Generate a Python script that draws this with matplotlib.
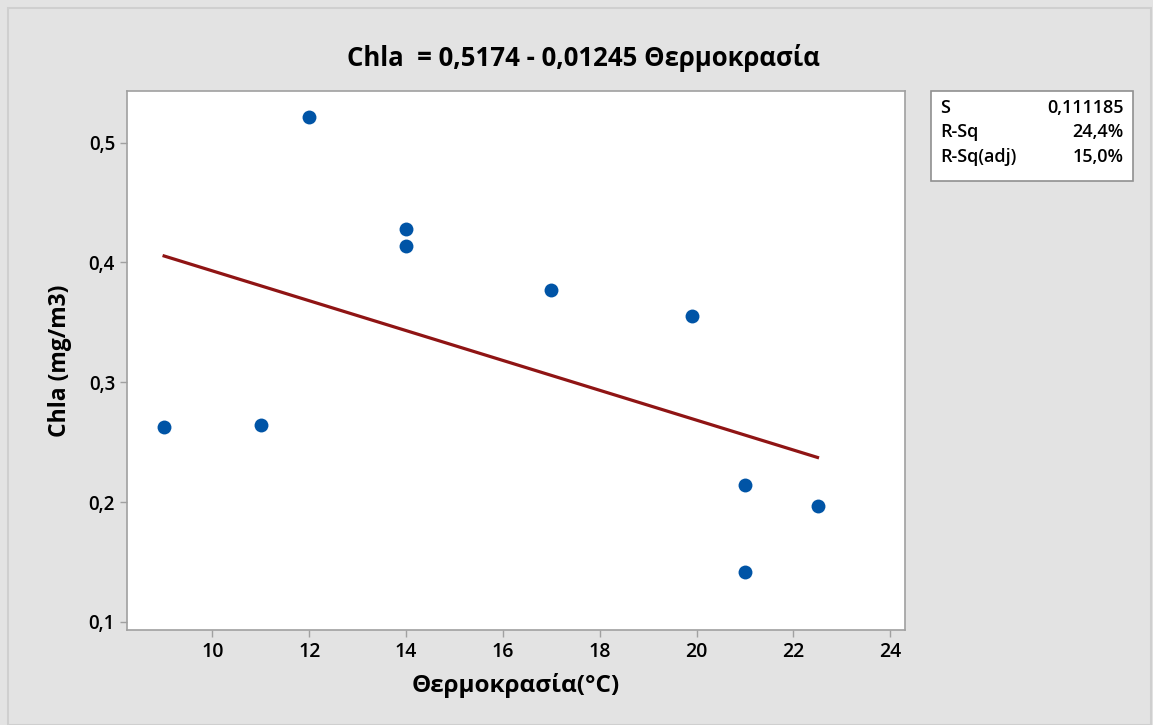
import numpy as np
import matplotlib
matplotlib.use("Agg")
from matplotlib import pyplot as plt
from matplotlib.patches import Rectangle

plt.rcParams['font.family'] = ['Open Sans', 'DejaVu Sans']

# Data
temp = [9, 11, 12, 14, 14, 17, 19.9, 21, 21, 22.5]
chla = [0.263, 0.2645, 0.521, 0.428, 0.414, 0.377, 0.3555, 0.2144, 0.1417, 0.197]

intercept = 0.5174
slope = -0.01245

stat_names = ["S", "R-Sq", "R-Sq(adj)"]
stat_values = ["0,111185", "24,4%", "15,0%"]

xticks = [10, 12, 14, 16, 18, 20, 22, 24]
yticks = [0.1, 0.2, 0.3, 0.4, 0.5]

def comma(v, pos=None):
    return f"{v:g}".replace(".", ",")

def main():
    bg = "#e3e3e3"
    fig = plt.figure(figsize=(11.53, 7.25), dpi=100, facecolor=bg)
    # outer frame
    fig.patches.append(Rectangle((8 / 1153, 0), 1 - 10 / 1153, 1 - 8 / 725,
                                 transform=fig.transFigure, fill=False,
                                 edgecolor="#cfcfcf", linewidth=1.5))

    ax = fig.add_axes([0.110, 0.131, 0.675, 0.7435])
    ax.set_facecolor("white")

    xs = np.array([min(temp), max(temp)])
    ax.plot(xs, intercept + slope * xs, color="#8f1414", linewidth=2.3, zorder=2)
    ax.scatter(temp, chla, s=100, color="#0054a6", zorder=3, linewidths=0)

    ax.set_xlim(8.23, 24.31)
    ax.set_ylim(0.0933, 0.543)
    ax.set_xticks(xticks)
    ax.set_yticks(yticks)
    ax.xaxis.set_major_formatter(plt.FuncFormatter(comma))
    ax.yaxis.set_major_formatter(plt.FuncFormatter(comma))
    ax.tick_params(colors="#a0a0a0", labelcolor="black", length=5, width=1)
    ax.tick_params(axis="x", labelsize=14)
    ax.tick_params(axis="y", labelsize=13.5)
    for lab in ax.get_xticklabels() + ax.get_yticklabels():
        lab.set_fontweight("semibold")
    for s in ax.spines.values():
        s.set_color("#a0a0a0")
        s.set_linewidth(1.2)

    ax.set_xlabel("Θερμοκρασία(°C)", fontsize=17.5, fontweight="bold", labelpad=8)
    ax.set_ylabel("Chla (mg/m3)", fontsize=16.5, fontweight="bold", labelpad=12)
    fig.text(0.506, 0.920, "Chla  = 0,5174 - 0,01245 Θερμοκρασία",
             ha="center", va="center", fontsize=18.5, fontweight="bold")

    # stats box
    bx0, bx1 = 931 / 1153, 1133 / 1153
    by0, by1 = 1 - 181 / 725, 1 - 91 / 725
    fig.patches.append(Rectangle((bx0, by0), bx1 - bx0, by1 - by0,
                                 transform=fig.transFigure, facecolor="white",
                                 edgecolor="#909090", linewidth=1.2))
    rows_y = [108, 132, 157]
    for name, val, ry in zip(stat_names, stat_values, rows_y):
        fig.text(bx0 + 0.008, 1 - ry / 725, name, ha="left", va="center",
                 fontsize=13, fontweight="semibold")
        fig.text(bx1 - 0.008, 1 - ry / 725, val, ha="right", va="center",
                 fontsize=13, fontweight="semibold")

    fig.savefig("out.png", dpi=100, facecolor=bg)

if __name__ == "__main__":
    main()
